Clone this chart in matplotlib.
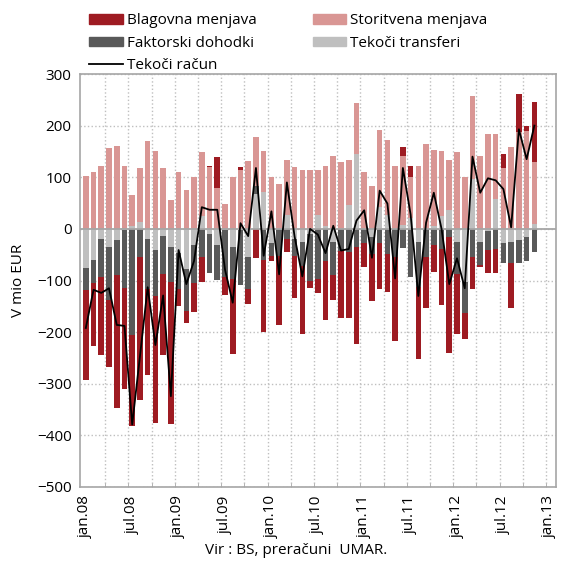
import numpy as np
import matplotlib.pyplot as plt
from matplotlib.patches import Patch
from matplotlib.lines import Line2D

plt.rcParams['font.family'] = ['Open Sans', 'DejaVu Sans']

# mesečni podatki, jan.08 - nov.12 (mio EUR)
blagovna = [-174, -121, -151, -131, -258, -197, -177, -276, -166, -246, -158, -274,
            -33, -22, -56, -48, 2, 59, -34, -145, 5, -28, -57, -139,
            -11, -135, -24, -82, -132, -14, -27, -113, -48, -130, -128, -187,
            -47, -90, -89, -73, -163, 16, 21, -139, -98, -52, -109, -225,
            -117, -51, -62, -3, -46, -47, 28, -86, 75, 9, 116]
storitvena = [102, 111, 122, 156, 161, 122, 61, 105, 171, 151, 117, 55,
              111, 75, 100, 123, 120, 80, 49, 100, 114, 131, 95, 79,
              100, 86, 107, 119, 114, 114, 88, 116, 142, 130, 87, 98,
              111, 83, 149, 146, 122, 134, 80, 122, 165, 147, 126, 96,
              148, 100, 161, 142, 184, 127, 117, 159, 187, 190, 120]
faktorski = [-44, -45, -74, -101, -67, -111, -205, -55, -97, -89, -74, -67,
             -71, -82, -73, -55, -76, -67, -91, -62, -106, -62, 16, -60,
             -25, -52, -20, -32, -47, -90, -98, -63, -64, -42, -44, -36,
             -27, -33, -27, -49, -55, -38, -94, -88, -55, -31, -39, -16,
             -62, -59, -55, -45, -35, -39, -39, -42, -44, -47, -44]
transferi = [-75, -60, -20, -36, -22, -3, 5, 13, -20, -41, -13, -36,
             -46, -78, -32, 25, -10, -32, -3, -36, -3, -55, 67, 72,
             -27, 0, 26, -20, -25, -10, 26, 6, -25, 0, 46, 145,
             0, -16, 43, 26, 0, 8, 21, -25, 0, 6, 25, 37,
             -25, -103, 96, -25, -5, 57, -27, -25, -22, -16, 10]
tekoci_racun = [-192, -118, -124, -115, -186, -188, -379, -247, -113, -225, -129, -324,
                -41, -107, -62, 42, 37, 37, -79, -143, 11, -14, 118, -52,
                34, -88, 90, -15, -92, 0, -11, -47, 6, -42, -39, 16,
                36, -56, 74, 49, -96, 118, 28, -130, 12, 70, 0, -107,
                -57, -115, 140, 70, 98, 94, 77, 3, 193, 135, 200]
oznake = ['jan.08', 'jul.08', 'jan.09', 'jul.09', 'jan.10', 'jul.10',
          'jan.11', 'jul.11', 'jan.12', 'jul.12', 'jan.13']

c_blag = '#9E1B22'
c_stor = '#D99694'
c_fakt = '#595959'
c_tran = '#BFBFBF'

fig = plt.figure(figsize=(5.61, 5.65), dpi=100)
ax = fig.add_axes([80/561, 1-487/565, 476/561, 413/565])

x = np.arange(len(storitvena))
serije = [(transferi, c_tran), (faktorski, c_fakt), (storitvena, c_stor), (blagovna, c_blag)]
pos = np.zeros(len(x))
neg = np.zeros(len(x))
for vals, col in serije:
    v = np.array(vals, dtype=float)
    p = np.where(v > 0, v, 0)
    n = np.where(v < 0, v, 0)
    ax.bar(x, p, 0.72, bottom=pos, color=col, zorder=2)
    ax.bar(x, n, 0.72, bottom=neg, color=col, zorder=2)
    pos += p
    neg += n

ax.axhline(0, color='#A6A6A6', lw=1.3, zorder=3)
ax.plot(x, tekoci_racun, color='black', lw=1.3, zorder=4)

ax.set_xlim(-0.75, 60.8)
ax.set_ylim(-500, 300)
ax.set_yticks(range(-500, 301, 100))
ax.set_xticks(np.arange(0, 61, 6))
ax.set_xticklabels(oznake, rotation=90, fontsize=11)
ax.set_xticks(np.arange(2.5, 60, 3), minor=True)
ax.tick_params(axis='y', length=0, labelsize=11, pad=6)
ax.tick_params(axis='x', which='major', length=0, pad=6)
ax.tick_params(axis='x', which='minor', length=3, direction='in', color='#A6A6A6')
ax.grid(axis='y', color='#BFBFBF', ls=':', lw=1, zorder=0)
for g in np.arange(2.5, 60, 3):
    ax.axvline(g, color='#BFBFBF', ls=':', lw=1, zorder=0)
for s in ax.spines.values():
    s.set_color('#A6A6A6')
    s.set_linewidth(1.2)

fig.text(18/561, 1-280/565, 'V mio EUR', rotation=90, ha='center', va='center', fontsize=11)
fig.text(296/561, 1-551/565, 'Vir : BS, preračuni  UMAR.', ha='center', va='center', fontsize=11)

handles = [Patch(color=c_blag), Patch(color=c_fakt), Line2D([], [], color='black', lw=1.3),
           Patch(color=c_stor), Patch(color=c_tran)]
labels = ['Blagovna menjava', 'Faktorski dohodki', 'Tekoči račun',
          'Storitvena menjava', 'Tekoči transferi']
fig.legend(handles, labels, ncol=2, loc='upper left', bbox_to_anchor=(80/561, 1-4/565),
           frameon=False, fontsize=11, handlelength=2.2, handleheight=0.6,
           handletextpad=0.25, columnspacing=3.7, labelspacing=0.5, borderaxespad=0.2)

fig.savefig('out.png', dpi=100)
